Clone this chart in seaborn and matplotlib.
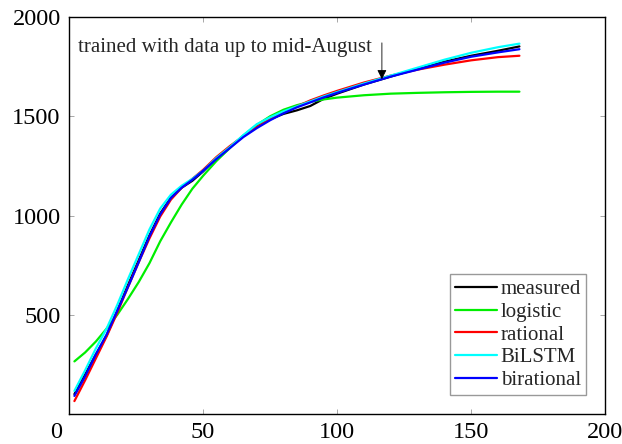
import matplotlib
matplotlib.use("Agg")
import matplotlib.pyplot as plt
import matplotlib.transforms as mtransforms
import numpy as np
import pandas as pd
import seaborn as sns

# day index (x) and the five curves
days = [2, 6, 10, 14, 18, 22, 26, 30, 34, 38, 42, 46, 50, 55, 60, 65, 70,
        75, 80, 85, 90, 95, 100, 110, 120, 130, 140, 150, 160, 168]

measured = [100, 200, 300, 395, 520, 650, 775, 900, 1010, 1090, 1140, 1175,
            1222, 1290, 1345, 1400, 1448, 1485, 1512, 1530, 1552, 1588, 1614,
            1660, 1700, 1740, 1775, 1805, 1830, 1852]
logistic = [265, 310, 365, 430, 500, 580, 665, 760, 870, 965, 1055, 1135,
            1200, 1275, 1340, 1403, 1456, 1500, 1533, 1556, 1573, 1585, 1594,
            1606, 1614, 1618, 1621, 1623, 1624, 1624]
rational = [65, 170, 280, 390, 510, 640, 765, 885, 995, 1080, 1140, 1185,
            1230, 1295, 1350, 1400, 1445, 1485, 1520, 1550, 1580, 1605, 1628,
            1670, 1705, 1735, 1760, 1782, 1798, 1805]
bilstm = [116, 220, 330, 430, 550, 680, 805, 930, 1035, 1105, 1150, 1185,
          1225, 1290, 1345, 1405, 1460, 1495, 1525, 1550, 1575, 1600, 1622,
          1665, 1705, 1745, 1785, 1820, 1848, 1866]
birational = [91, 190, 300, 400, 520, 640, 765, 895, 1005, 1088, 1140, 1180,
              1225, 1285, 1340, 1395, 1440, 1480, 1515, 1545, 1570, 1595, 1618,
              1660, 1700, 1735, 1770, 1800, 1822, 1838]

names = ['measured', 'logistic', 'rational', 'BiLSTM', 'birational']
colors = ['#000000', '#00ee00', '#ff0000', '#00ffff', '#0000ff']

xticks = [0, 50, 100, 150, 200]
yticks = [500, 1000, 1500, 2000]
note = 'trained with data up to mid-August'
note_day = 116.7


def build_frame():
    series = [measured, logistic, rational, bilstm, birational]
    rows = []
    for name, vals in zip(names, series):
        for d, v in zip(days, vals):
            rows.append({'day': d, 'value': v, 'model': name})
    return pd.DataFrame(rows)


def line_plot():
    df = build_frame()
    sns.set_style("ticks")
    plt.rcParams['font.family'] = ['Liberation Serif', 'DejaVu Serif']

    fig = plt.figure(figsize=(6.22, 4.44), dpi=100)
    ax = fig.add_axes([0.111, 0.0676, 0.862, 0.894])

    sns.lineplot(data=df, x='day', y='value', hue='model', hue_order=names,
                 palette=dict(zip(names, colors)), linewidth=1.6, ax=ax,
                 legend=True)

    ax.set_xlim(0, 200)
    ax.set_ylim(0, 2000)
    ax.set_xticks(xticks)
    ax.set_yticks(yticks)
    ax.set_xlabel('')
    ax.set_ylabel('')
    ax.tick_params(direction='in', length=3.5, width=0.6, color='#999999',
                   labelsize=17.5, top=True, right=True, pad=6,
                   labelcolor='black')
    for s in ax.spines.values():
        s.set_linewidth(1.0)
        s.set_color('black')

    # MATLAB-style shifted "0" label
    lbl = ax.get_xticklabels()[0]
    lbl.set_transform(lbl.get_transform() +
                      mtransforms.ScaledTranslation(-0.13, 0, fig.dpi_scale_trans))

    # annotation: arrow and text
    i = days.index(120)
    tip = birational[i - 1] + (birational[i] - birational[i - 1]) * 0.67
    ax.annotate('', xy=(note_day, tip), xytext=(note_day, 1870),
                arrowprops=dict(arrowstyle='-|>', color='black', lw=0.6,
                                mutation_scale=14, shrinkA=0, shrinkB=0))
    ax.text(3.4, 1845, note, fontsize=15, va='center', ha='left')

    leg = ax.legend(loc='lower right', fontsize=15, frameon=True,
                    fancybox=False, edgecolor='#999999', framealpha=1,
                    handlelength=2.0, handletextpad=0.2, borderpad=0.25,
                    labelspacing=0.15, borderaxespad=0.9)
    leg.get_frame().set_linewidth(1.0)
    for line in leg.get_lines():
        line.set_linewidth(1.6)

    fig.savefig('out.png', dpi=100)


if __name__ == '__main__':
    line_plot()
